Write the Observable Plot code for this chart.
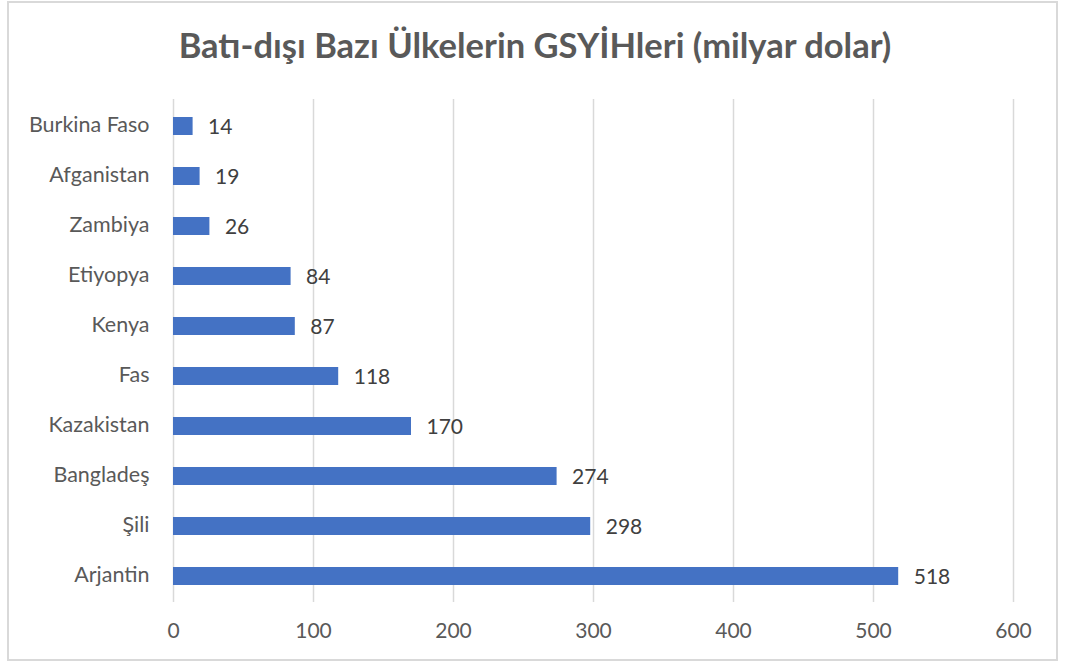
<!DOCTYPE html>
<html><head><meta charset="utf-8">
<script src="https://cdn.jsdelivr.net/npm/d3@7"></script>
<script src="https://cdn.jsdelivr.net/npm/@observablehq/plot@0.6"></script>
<style>
html,body{margin:0;padding:0;background:#fff;}
#wrap{position:relative;width:1070px;height:668px;overflow:hidden;}
#frame{position:absolute;left:7px;top:1px;width:1051px;height:660px;border:2px solid #d9d9d9;box-sizing:border-box;}
#title{position:absolute;left:0;top:0;width:1070px;height:80px;line-height:90px;text-align:center;font-family:Lato,"Open Sans",sans-serif;font-weight:bold;font-size:34.5px;color:#595959;}
#chart{position:absolute;left:0;top:80px;}
</style></head>
<body>
<div id="wrap"><div id="frame"></div><div id="title">Batı-dışı Bazı Ülkelerin GSYİHleri (milyar dolar)</div><div id="chart"></div></div>
<script>
const countries = ["Burkina Faso","Afganistan","Zambiya","Etiyopya","Kenya","Fas","Kazakistan","Bangladeş","Şili","Arjantin"];
const gdp = [14,19,26,84,87,118,170,274,298,518];
const xTicks = [0,100,200,300,400,500,600];
const data = countries.map((c,i)=>({country:c, value:gdp[i]}));
const plot = Plot.plot({
  width:1070, height:588,
  marginTop:19, marginBottom:66, marginLeft:173, marginRight:57,
  style:{fontFamily:"Lato, 'Open Sans', sans-serif", fontSize:"21px", color:"#595959", background:"transparent"},
  x:{domain:[0,600], ticks:xTicks, grid:false, label:null},
  y:{domain:countries, paddingInner:0.64, paddingOuter:0.32, label:null},
  marks:[
    Plot.ruleX(xTicks,{stroke:"#d9d9d9", strokeWidth:1.5}),
    Plot.axisX({ticks:xTicks, tickSize:0, tickPadding:21, label:null, fontSize:21}),
    Plot.axisY({tickSize:0, tickPadding:24, label:null, fontSize:21.5, dy:-1}),
    Plot.barX(data,{x:"value", y:"country", fill:"#4472C4"}),
    Plot.text(data,{x:"value", y:"country", text:d=>String(d.value), textAnchor:"start", dx:15, dy:1, fill:"#404040", fontSize:21})
  ]
});
document.getElementById("chart").appendChild(plot);
</script>
</body></html>
